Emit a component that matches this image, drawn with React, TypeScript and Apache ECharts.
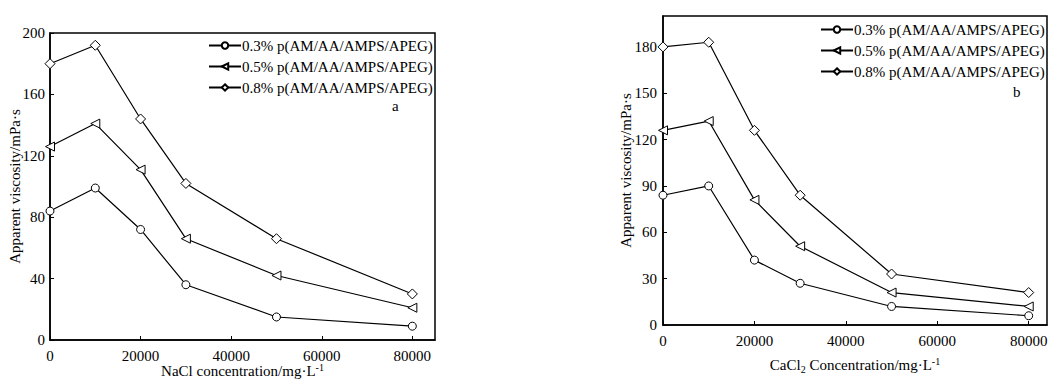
import React, { useEffect, useRef } from "react";
import * as echarts from "echarts";

const concentrations = [0, 10000, 20000, 30000, 50000, 80000];
const seriesNames = [
  "0.3% p(AM/AA/AMPS/APEG)",
  "0.5% p(AM/AA/AMPS/APEG)",
  "0.8% p(AM/AA/AMPS/APEG)",
];
const naclLow = [84, 99, 72, 36, 15, 9];
const naclMid = [126, 141, 111, 66, 42, 21];
const naclHigh = [180, 192, 144, 102, 66, 30];
const cacl2Low = [84, 90, 42, 27, 12, 6];
const cacl2Mid = [126, 132, 81, 51, 21, 12];
const cacl2High = [180, 183, 126, 84, 33, 21];

const FONT = "'Liberation Serif', 'DejaVu Serif', serif";
const symbols = ["circle", "path://M0,5 L10,0 L10,10 Z", "path://M5,0 L10,5 L5,10 L0,5 Z"];
const symbolSizes = [8, 9, 10];

export default function App() {
  const ref = useRef<HTMLDivElement>(null);
  useEffect(() => {
    if (!ref.current) return;
    const chart = echarts.init(ref.current, undefined, { renderer: "svg" });
    const toPairs = (ys: number[]) => concentrations.map((x, i) => [x, ys[i]]);
    const mk = (name: string, ys: number[], idx: number, k: number) => ({
      type: "line",
      name,
      xAxisIndex: idx,
      yAxisIndex: idx,
      data: toPairs(ys),
      symbol: symbols[k],
      symbolSize: symbolSizes[k],
      showAllSymbol: true,
      lineStyle: { color: "#000", width: 1.2 },
      itemStyle: { color: "#fff", borderColor: "#000", borderWidth: 1 },
      z: 3,
    });
    const labelStyle = { fontFamily: FONT, fontSize: 15, color: "#000" };
    const axisCommon = {
      axisLine: { show: true, lineStyle: { color: "#000", width: 1.5 } },
      axisTick: { show: true, inside: true, length: 4, lineStyle: { color: "#000", width: 1 } },
      splitLine: { show: false },
      nameMoveOverlap: false,
      nameTextStyle: { fontFamily: FONT, fontSize: 15, color: "#000" },
    };
    const rich = {
      sup: { fontFamily: FONT, fontSize: 10, color: "#000", padding: [0, 0, 8, 0] },
      sub: { fontFamily: FONT, fontSize: 10, color: "#000", padding: [8, 0, 0, 0] },
    };
    const legendCommon = {
      orient: "vertical",
      itemWidth: 32,
      itemHeight: 8,
      itemGap: 6,
      selectedMode: false,
      textStyle: { fontFamily: FONT, fontSize: 15, color: "#000", padding: [0, 0, 0, -4] },
      data: seriesNames.map((n) => ({ name: n })),
    };
    const plain = (v: number) => String(v);
    chart.setOption({
      animation: false,
      backgroundColor: "#fff",
      grid: [
        { left: 50, top: 33, width: 385, height: 307, show: true, borderColor: "#000", borderWidth: 1.5, backgroundColor: "transparent", outerBoundsMode: "none", containLabel: false },
        { left: 663, top: 16, width: 384, height: 309, show: true, borderColor: "#000", borderWidth: 1.5, backgroundColor: "transparent", outerBoundsMode: "none", containLabel: false },
      ],
      legend: [
        { ...legendCommon, left: 203, top: 33 },
        { ...legendCommon, left: 815, top: 17 },
      ],
      xAxis: [
        {
          ...axisCommon,
          gridIndex: 0,
          type: "value",
          min: 0,
          max: 85000,
          interval: 20000,
          name: "NaCl concentration/mg·L{sup|-1}",
          nameLocation: "middle",
          nameGap: 22,
          nameTextStyle: { ...axisCommon.nameTextStyle, rich },
          axisLabel: { ...labelStyle, margin: 8, showMaxLabel: false, formatter: plain },
        },
        {
          ...axisCommon,
          gridIndex: 1,
          type: "value",
          min: 0,
          max: 84000,
          interval: 20000,
          name: "CaCl{sub|2} Concentration/mg·L{sup|-1}",
          nameLocation: "middle",
          nameGap: 31,
          nameTextStyle: { ...axisCommon.nameTextStyle, rich },
          axisLabel: { ...labelStyle, margin: 8, showMaxLabel: false, formatter: plain },
        },
      ],
      yAxis: [
        {
          ...axisCommon,
          gridIndex: 0,
          type: "value",
          min: 0,
          max: 200,
          interval: 40,
          name: "Apparent viscosity/mPa·s",
          nameLocation: "middle",
          nameGap: 28,
          axisLabel: { ...labelStyle, margin: 5, formatter: plain },
        },
        {
          ...axisCommon,
          gridIndex: 1,
          type: "value",
          min: 0,
          max: 200,
          interval: 30,
          name: "Apparent viscosity/mPa·s",
          nameLocation: "middle",
          nameGap: 30,
          axisLabel: { ...labelStyle, margin: 6, showMaxLabel: false, formatter: plain },
        },
      ],
      graphic: [
        { type: "text", left: 392, top: 98, style: { text: "a", fontFamily: FONT, fontSize: 15, fill: "#000" } },
        { type: "text", left: 1013, top: 84, style: { text: "b", fontFamily: FONT, fontSize: 15, fill: "#000" } },
      ],
      series: [
        mk(seriesNames[0], naclLow, 0, 0),
        mk(seriesNames[1], naclMid, 0, 1),
        mk(seriesNames[2], naclHigh, 0, 2),
        mk(seriesNames[0], cacl2Low, 1, 0),
        mk(seriesNames[1], cacl2Mid, 1, 1),
        mk(seriesNames[2], cacl2High, 1, 2),
      ],
    });
    return () => chart.dispose();
  }, []);
  return <div ref={ref} style={{ position: "fixed", left: 0, top: 0, width: 1049, height: 380 }} />;
}
